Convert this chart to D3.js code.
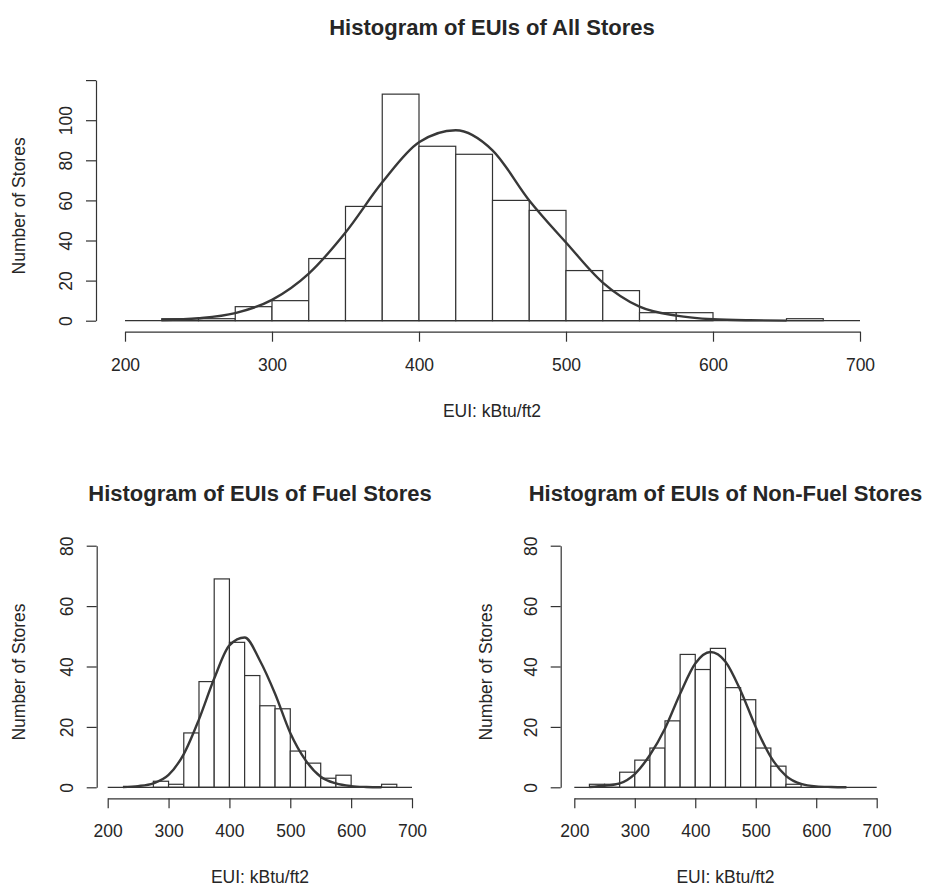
<!DOCTYPE html>
<html>
<head>
<meta charset="utf-8">
<script src="https://cdn.jsdelivr.net/npm/d3@7"></script>
<style>
  body { margin: 0; background: #fff; }
  svg text { font-family: "Liberation Sans", Arial, Helvetica, sans-serif; fill: #262626; }
</style>
</head>
<body>
<div class="content"></div>
<script>
// histogram bins (EUI, width 25)
var breaks = [225, 250, 275, 300, 325, 350, 375, 400, 425, 450, 475, 500, 525, 550, 575, 600, 625, 650, 675];
var xTicks = [200, 300, 400, 500, 600, 700];

var allCounts     = [1, 1, 7, 10, 31, 57, 113, 87, 83, 60, 55, 25, 15, 4, 4, 0, 0, 1];
var fuelCounts    = [0, 0, 2, 1, 18, 35, 69, 48, 37, 27, 26, 12, 8, 3, 4, 0, 0, 1];
var nonFuelCounts = [1, 1, 5, 9, 13, 22, 44, 39, 46, 33, 29, 13, 7, 1, 0, 0, 0, 0];

// fitted normal curve
var curveX       = [225, 250, 275, 300, 325, 350, 375, 400, 425, 450, 475, 500, 525, 550, 575, 600, 625, 650];
var allCurve     = [0.3, 1.2, 3.8, 10.4, 23.5, 44, 69, 89, 95, 85, 60, 39, 19, 7, 2.5, 0.7, 0.2, 0.05];
var fuelCurve    = [0.1, 0.4, 1.3, 4.1, 11, 22.5, 36, 47, 49.6, 42, 31, 18, 9, 3.5, 1.3, 0.4, 0.1, 0];
var nonFuelCurve = [0.1, 0.5, 1.3, 4.4, 10.7, 19.5, 31, 41, 44.8, 41.6, 32, 20, 10, 3.8, 1.1, 0.3, 0.1, 0];

var allYTicks  = [0, 20, 40, 60, 80, 100, 120];
var allYLabels = [0, 20, 40, 60, 80, 100];
var subYTicks  = [0, 20, 40, 60, 80];

var titles = ['Histogram of EUIs of All Stores', 'Histogram of EUIs of Fuel Stores', 'Histogram of EUIs of Non-Fuel Stores'];
var xLabel = 'EUI: kBtu/ft2';
var yLabel = 'Number of Stores';

var svg = d3.select('.content')
  .append('svg')
  .attr('width', 927)
  .attr('height', 887);

svg.append('rect').attr('width', 927).attr('height', 887).attr('fill', '#fff');

var ink = '#333';

var panels = [
  {title: titles[0], counts: allCounts, curve: allCurve, yTicks: allYTicks, yLabels: allYLabels, yMax: 120,
   xRange: [125, 860], yRange: [320.7, 80.1], left: 96, axisY: 331.7, center: 492, titleY: 35, yLabelX: 25},
  {title: titles[1], counts: fuelCounts, curve: fuelCurve, yTicks: subYTicks, yLabels: subYTicks, yMax: 80,
   xRange: [107.7, 412], yRange: [787.3, 545.7], left: 96.7, axisY: 798.3, center: 260, titleY: 501, yLabelX: 25},
  {title: titles[2], counts: nonFuelCounts, curve: nonFuelCurve, yTicks: subYTicks, yLabels: subYTicks, yMax: 80,
   xRange: [574.3, 876.7], yRange: [787.3, 545.7], left: 560.7, axisY: 798.3, center: 725.5, titleY: 501, yLabelX: 492}
];

panels.forEach(function(p) {
  var x = d3.scaleLinear().domain([200, 700]).range(p.xRange);
  var y = d3.scaleLinear().domain([0, p.yMax]).range(p.yRange);
  var g = svg.append('g');

  var bins = p.counts.map(function(c, i) {
    return {x0: breaks[i], x1: breaks[i + 1], n: c};
  }).filter(function(d) { return d.n > 0; });

  g.selectAll('.bar')
    .data(bins)
    .enter()
    .append('rect')
    .attr('x', function(d) { return x(d.x0); })
    .attr('y', function(d) { return y(d.n); })
    .attr('width', function(d) { return x(d.x1) - x(d.x0); })
    .attr('height', function(d) { return y(0) - y(d.n); })
    .attr('fill', '#fff')
    .attr('stroke', ink)
    .attr('stroke-width', 1.2);

  // zero line
  g.append('line')
    .attr('x1', x(200)).attr('x2', x(700))
    .attr('y1', y(0)).attr('y2', y(0))
    .attr('stroke', ink)
    .attr('stroke-width', 1.2);

  var line = d3.line()
    .x(function(d, i) { return x(curveX[i]); })
    .y(function(d) { return y(d); })
    .curve(d3.curveMonotoneX);

  g.append('path')
    .datum(p.curve)
    .attr('d', line)
    .attr('fill', 'none')
    .attr('stroke', '#383838')
    .attr('stroke-width', 2.4);

  // axes
  var axisX = g.append('g')
    .attr('transform', 'translate(0,' + p.axisY + ')')
    .call(d3.axisBottom(x).tickValues(xTicks).tickSize(10).tickSizeOuter(0));
  axisX.selectAll('text')
    .attr('y', 39).attr('dy', 0)
    .style('font-size', '17.5px');

  var axisY = g.append('g')
    .attr('transform', 'translate(' + p.left + ',0)')
    .call(d3.axisLeft(y).tickValues(p.yTicks).tickSize(10).tickSizeOuter(0)
      .tickFormat(function(d) { return p.yLabels.indexOf(d) >= 0 ? d : ''; }));
  axisY.selectAll('text')
    .attr('x', 0).attr('y', -24).attr('dy', 0)
    .attr('transform', 'rotate(-90)')
    .attr('text-anchor', 'middle')
    .style('font-size', '17.5px');

  [axisX, axisY].forEach(function(a) {
    a.attr('color', ink);
    a.selectAll('path, line').attr('stroke-width', 1.2);
  });

  // titles
  g.append('text')
    .attr('x', p.center).attr('y', p.titleY)
    .attr('text-anchor', 'middle')
    .style('font-size', '22px')
    .style('font-weight', 'bold')
    .text(p.title);

  g.append('text')
    .attr('x', p.center).attr('y', p.axisY + 85)
    .attr('text-anchor', 'middle')
    .style('font-size', '17.5px')
    .text(xLabel);

  var yMid = (p.yRange[0] + p.yRange[1]) / 2 + (p.axisY - p.yRange[0]) / 2;
  g.append('text')
    .attr('transform', 'translate(' + p.yLabelX + ',' + yMid + ') rotate(-90)')
    .attr('text-anchor', 'middle')
    .style('font-size', '17.5px')
    .text(yLabel);
});
</script>
</body>
</html>
